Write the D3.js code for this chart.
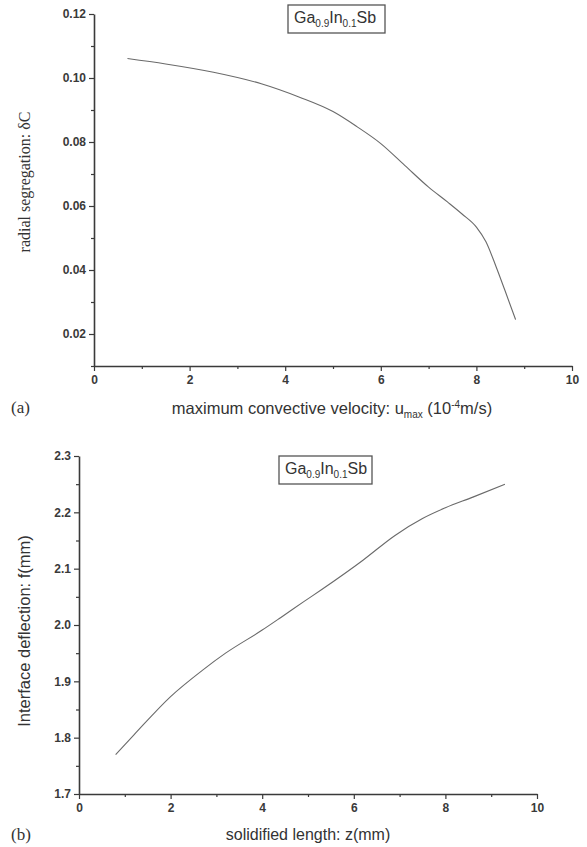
<!DOCTYPE html>
<html><head><meta charset="utf-8">
<script src="https://cdn.jsdelivr.net/npm/d3@7"></script>
<style>body{margin:0;background:#fff}svg{display:block}</style>
</head><body>
<svg id="c" width="587" height="847"></svg>
<script>
// Panel (a)
const aX = [0.7, 1.5, 2.5, 3.5, 4.3, 5.0, 5.5, 6.0, 6.5, 7.0, 7.4, 7.7, 8.0, 8.2, 8.4, 8.6, 8.82];
const aY = [0.1061, 0.1044, 0.1018, 0.0982, 0.0940, 0.0895, 0.0848, 0.0795, 0.0727, 0.0659, 0.0612, 0.0575, 0.0534, 0.0488, 0.0415, 0.0335, 0.0245];
const aXTicks = [0, 2, 4, 6, 8, 10];
const aYTicks = [0.02, 0.04, 0.06, 0.08, 0.10, 0.12];
// Panel (b)
const bX = [0.8, 1.2, 2.0, 2.7, 3.2, 4.0, 4.4, 4.9, 5.3, 6.2, 6.9, 7.5, 8.0, 8.6, 9.3];
const bY = [1.77, 1.805, 1.873, 1.92, 1.95, 1.991, 2.013, 2.041, 2.063, 2.115, 2.159, 2.189, 2.208, 2.227, 2.25];
const bXTicks = [0, 2, 4, 6, 8, 10];
const bYTicks = [1.7, 1.8, 1.9, 2.0, 2.1, 2.2, 2.3];

const svg = d3.select("#c");
const axisColor = "#3a3a3a";
const sans = "'Liberation Sans', Arial, sans-serif";
const serif = "'Liberation Serif', 'Times New Roman', serif";

function panel(cfg) {
  const x = d3.scaleLinear().domain(cfg.xd).range([cfg.left, cfg.right]);
  const y = d3.scaleLinear().domain(cfg.yd).range([cfg.bottom, cfg.top]);
  const g = svg.append("g");

  const xMinor = d3.range(cfg.xd[0], cfg.xd[1] + 1e-9, cfg.xMinor).filter(v => !cfg.xTicks.some(t => Math.abs(t - v) < 1e-9));
  const yMinor = d3.range(cfg.yd[0], cfg.yd[1] + 1e-9, cfg.yMinor).filter(v => !cfg.yTicks.some(t => Math.abs(t - v) < 1e-9));

  g.append("g").attr("transform", `translate(0,${cfg.bottom})`)
    .call(d3.axisBottom(x).tickValues(cfg.xTicks).tickFormat(d3.format("d")).tickSizeInner(5).tickSizeOuter(0).tickPadding(4));
  const xm = g.append("g").attr("transform", `translate(0,${cfg.bottom})`)
    .call(d3.axisBottom(x).tickValues(xMinor).tickFormat("").tickSizeInner(3).tickSizeOuter(0));
  xm.select(".domain").remove();
  g.append("g").attr("transform", `translate(${cfg.left},0)`)
    .call(d3.axisLeft(y).tickValues(cfg.yTicks).tickFormat(cfg.yFmt).tickSizeInner(5).tickSizeOuter(0).tickPadding(3));
  const ym = g.append("g").attr("transform", `translate(${cfg.left},0)`)
    .call(d3.axisLeft(y).tickValues(yMinor).tickFormat("").tickSizeInner(3).tickSizeOuter(0));
  ym.select(".domain").remove();
  g.selectAll(".domain").attr("stroke", axisColor).attr("stroke-width", 1.6);
  g.selectAll(".tick line").attr("stroke", axisColor).attr("stroke-width", 1.2);
  g.selectAll(".tick text").attr("font-family", sans).attr("font-size", 12).attr("font-weight", "bold").attr("fill", "#3a3a3a");

  const pts = cfg.xs.map((v, i) => [v, cfg.ys[i]]);
  g.append("path").datum(pts)
    .attr("fill", "none").attr("stroke", "#6a6a6a").attr("stroke-width", 1.1)
    .attr("d", d3.line().x(d => x(d[0])).y(d => y(d[1])).curve(d3.curveMonotoneX));

  g.append("rect").attr("x", cfg.box[0]).attr("y", cfg.box[1]).attr("width", cfg.box[2]).attr("height", cfg.box[3])
    .attr("fill", "#fff").attr("stroke", "#555").attr("stroke-width", 1.3);
  const lt = g.append("text").attr("x", cfg.box[0] + 6).attr("y", cfg.box[1] + 18)
    .attr("font-family", sans).attr("font-size", 16).attr("fill", "#333");
  lt.append("tspan").text("Ga");
  lt.append("tspan").attr("font-size", 10).attr("dy", 4).text("0.9");
  lt.append("tspan").attr("dy", -4).text("In");
  lt.append("tspan").attr("font-size", 10).attr("dy", 4).text("0.1");
  lt.append("tspan").attr("dy", -4).text("Sb");
  return { g, x, y };
}

const A = panel({
  xd: [0, 10], yd: [0.01, 0.12], left: 94, right: 572, top: 14, bottom: 366,
  xTicks: aXTicks, yTicks: aYTicks, xMinor: 1, yMinor: 0.01, yFmt: d3.format(".2f"),
  xs: aX, ys: aY, box: [288, 5, 97, 28]
});
A.g.append("text").attr("transform", "translate(30,182) rotate(-90)").attr("text-anchor", "middle")
  .attr("font-family", serif).attr("font-size", 16).attr("fill", "#333").text("radial segregation: δC");
const xla = A.g.append("text").attr("x", 332).attr("y", 414).attr("text-anchor", "middle")
  .attr("font-family", sans).attr("font-size", 16.5).attr("fill", "#333");
xla.append("tspan").text("maximum convective velocity: u");
xla.append("tspan").attr("font-size", 10).attr("dy", 4).text("max");
xla.append("tspan").attr("dy", -4).text(" (10");
xla.append("tspan").attr("font-size", 10).attr("dy", -6).text("-4");
xla.append("tspan").attr("dy", 6).text("m/s)");
A.g.append("text").attr("x", 11).attr("y", 413).attr("font-family", serif).attr("font-size", 17).attr("fill", "#333").text("(a)");

const B = panel({
  xd: [0, 10], yd: [1.7, 2.3], left: 79, right: 537, top: 456, bottom: 794,
  xTicks: bXTicks, yTicks: bYTicks, xMinor: 1, yMinor: 0.05, yFmt: d3.format(".1f"),
  xs: bX, ys: bY, box: [279, 456, 93, 28]
});
B.g.append("text").attr("transform", "translate(30,631) rotate(-90)").attr("text-anchor", "middle")
  .attr("font-family", sans).attr("font-size", 16.5).attr("fill", "#333").text("Interface deflection: f(mm)");
B.g.append("text").attr("x", 308).attr("y", 840).attr("text-anchor", "middle")
  .attr("font-family", sans).attr("font-size", 16).attr("fill", "#333").text("solidified length: z(mm)");
B.g.append("text").attr("x", 11).attr("y", 840).attr("font-family", serif).attr("font-size", 17).attr("fill", "#333").text("(b)");
</script>
</body></html>
